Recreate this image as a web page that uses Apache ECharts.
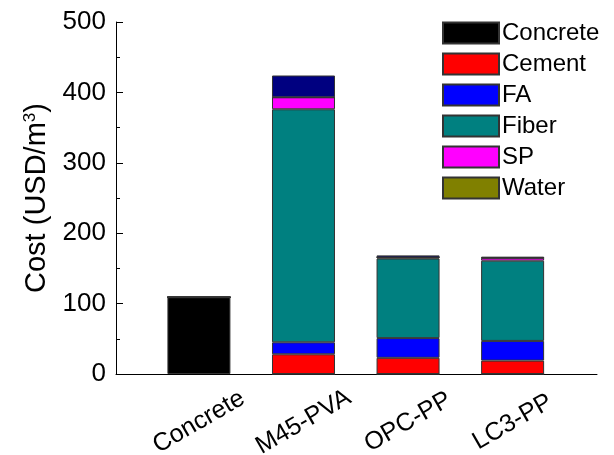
<!DOCTYPE html>
<html>
<head>
<meta charset="utf-8">
<script src="https://cdn.jsdelivr.net/npm/echarts@6/dist/echarts.min.js"></script>
<style>
  html, body { margin: 0; padding: 0; background: #fff; }
  #chart { width: 614px; height: 455px; }
</style>
</head>
<body>
<div id="chart"></div>
<script>
// mixes on the x axis
const categories = ["Concrete", "M45-PVA", "OPC-PP", "LC3-PP"];
// cost of each component, USD/m3 (stacked)
const concrete = [109, 0, 0, 0];
const cement = [0, 28, 23, 19];
const fa = [0, 17, 28, 28];
const fiber = [0, 331, 113, 114];
const sp = [0, 17, 1.5, 4];
const water = [0, 0, 0, 0];
const other = [0, 31, 3, 1.5];
const yTicks = [0, 100, 200, 300, 400, 500];

const chart = echarts.init(document.getElementById("chart"));

// value first so it's the stacked dimension, x position second
const mk = (name, values, color) => ({
  name: name,
  type: "bar",
  stack: "cost",
  barWidth: 63,
  encode: { x: 1, y: 0 },
  data: values.map((v, i) => [v, i]),
  itemStyle: { color: color, borderColor: "#333", borderWidth: 1 },
});

chart.setOption({
  animation: false,
  textStyle: { fontFamily: "Liberation Sans, Arial, sans-serif" },
  grid: { left: 116, top: 22, right: 17, bottom: 81, containLabel: false, outerBoundsMode: "none" },
  legend: {
    data: ["Concrete", "Cement", "FA", "Fiber", "SP", "Water"],
    orient: "vertical",
    left: 437,
    top: 16,
    itemWidth: 56,
    itemHeight: 21,
    itemGap: 7,
    icon: "rect",
    textStyle: { fontSize: 24, color: "#000", padding: [0, 0, 0, -2] },
  },
  xAxis: {
    type: "value",
    min: -0.793,
    max: 3.807,
    splitLine: { show: false },
    axisTick: { show: false },
    axisLine: { show: true, onZero: false, lineStyle: { color: "#000", width: 1 } },
    axisLabel: {
      customValues: [0, 1, 2, 3],
      formatter: (v) => categories[Math.round(v)],
      rotate: 30,
      align: "center",
      verticalAlign: "middle",
      fontSize: 25,
      color: "#000",
      margin: 48,
    },
  },
  yAxis: {
    type: "value",
    min: 0,
    max: yTicks[yTicks.length - 1],
    interval: 100,
    name: "Cost (USD/m{sup|3})",
    nameLocation: "middle",
    nameGap: 63,
    nameTextStyle: {
      fontSize: 29,
      color: "#000",
      rich: { sup: { fontSize: 17, verticalAlign: "top", padding: [0, 0, 14, 0] } },
    },
    splitLine: { show: false },
    axisLine: { show: true, onZero: false, lineStyle: { color: "#000", width: 1 } },
    axisTick: { show: true, inside: true, length: 7, lineStyle: { color: "#000" } },
    minorTick: { show: true, splitNumber: 2, length: 4, lineStyle: { color: "#000" } },
    axisLabel: { fontSize: 26, color: "#000", margin: 10 },
  },
  series: [
    mk("Concrete", concrete, "#000000"),
    mk("Cement", cement, "#ff0000"),
    mk("FA", fa, "#0000ff"),
    mk("Fiber", fiber, "#008080"),
    mk("SP", sp, "#ff00ff"),
    mk("Water", water, "#808000"),
    mk("Other", other, "#000080"),
  ],
});
</script>
</body>
</html>
